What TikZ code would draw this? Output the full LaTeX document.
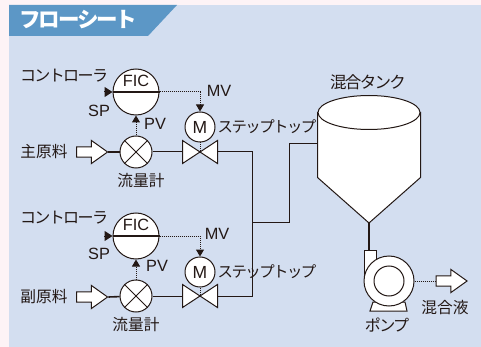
\documentclass[tikz,border=0pt]{standalone}
\usepackage{fontspec}
\setmainfont{Liberation Sans}
\newfontfamily\cjk{Noto Sans CJK JP}
\newfontfamily\kanafont[LetterSpace=-10]{Noto Sans CJK JP}
\usepackage{tikz}
\usetikzlibrary{arrows.meta,shapes.arrows}
\definecolor{ink}{HTML}{231815}
\definecolor{panel}{HTML}{D3DEF0}
\definecolor{page}{HTML}{FDF3F6}
\definecolor{tab}{HTML}{5C97C6}
\begin{document}
\begin{tikzpicture}[x=1pt, y=-1pt, line width=1pt, draw=ink, text=ink,
    main/.style = {draw, circle, fill=white, inner sep=0pt},
    fic/.style = {main, minimum size=46pt},
    meter/.style = {main, minimum size=32pt},
    motor/.style = {main, minimum size=30pt, font=\fontsize{17.5}{17.5}\selectfont},
    valve/.style = {minimum width=34pt, minimum height=22pt, inner sep=0pt},
    inout/.style = {draw, fill=white, single arrow, minimum height=31pt, minimum width=23pt,
        inner sep=4.6pt, single arrow head extend=6.5pt, single arrow tip angle=71},
    txt/.style = {inner sep=0pt, font=\fontsize{16.3}{16.3}\selectfont},
    jp/.style = {inner sep=0pt, font=\cjk\fontsize{15.7}{15.7}\selectfont},
    kana/.style = {inner sep=0pt, font=\kanafont\fontsize{16}{16}\selectfont},
    dots/.style = {dash pattern=on 1pt off 1pt},
    signal/.style = {dots, -{Triangle[length=7pt,width=8pt]}}]
    % background
    \fill[page] (0,0) rectangle (481,347);
    \fill[panel] (9,5) rectangle (481,347);
    \fill[tab] (9,5) -- (177,5) -- (148,36) -- (9,36) -- cycle;
    \node[inner sep=0pt, text=white, font=\kanafont\bfseries\fontsize{21.5}{21.5}\selectfont] (title) at (78.5,20) {フローシート};

    % upper line
    \node[meter] (m1) at (136,152) {};
    \node[fic] (c1) at (136,92) {};
    \node[motor] (a1) at (200,127) {M};
    \node[valve] (v1) at (200,152) {};
    \node[inout] (in1) at (88.5,152) {};
    \coordinate (s1) at (104,92);
    \coordinate (b1) at (200,92);
    \draw[line width=1.5pt] (c1.west) -- (c1.east);
    \draw (m1.45) -- (m1.225) (m1.135) -- (m1.315);
    \filldraw[fill=white] (v1.north west) -- (v1.south east) -- (v1.north east) -- (v1.south west) -- cycle;
    \node[txt] (f1) at (136,81) {FIC};
    \draw[line width=1.6pt] (in1.tip) -- (m1);
    \draw (m1) -- (v1.west);
    \draw[-{Triangle[length=8pt,width=10pt]}] (s1) -- (c1.west);
    \draw[signal] (m1) -- (c1);
    \draw[dots] (c1.east) -- (b1);
    \draw[signal] (b1) -- (a1);
    \draw[dots] (a1) -- (v1.center);
    \node[kana] (k1) at (64,76) {コントローラ};
    \node[txt] (sp1) at (99,111) {SP};
    \node[txt] (pv1) at (155,124) {PV};
    \node[txt] (mv1) at (219,91) {MV};
    \node[kana, font=\kanafont\fontsize{15.4}{15.4}\selectfont] (st1) at (267,127) {ステップトップ};
    \node[jp] (ma1) at (44,152) {主原料};
    \node[jp] (fm1) at (141,181) {流量計};

    % lower line
    \node[meter] (m2) at (136,296) {};
    \node[fic] (c2) at (136,236) {};
    \node[motor] (a2) at (200,272) {M};
    \node[valve] (v2) at (200,296) {};
    \node[inout] (in2) at (88.5,297) {};
    \coordinate (s2) at (104,236);
    \coordinate (b2) at (200,236);
    \draw[line width=1.5pt] (c2.west) -- (c2.east);
    \draw (m2.45) -- (m2.225) (m2.135) -- (m2.315);
    \filldraw[fill=white] (v2.north west) -- (v2.south east) -- (v2.north east) -- (v2.south west) -- cycle;
    \node[txt] (f2) at (136,225) {FIC};
    \draw[line width=1.6pt] (in2.tip) -- (m2);
    \draw (m2) -- (v2.west);
    \draw[-{Triangle[length=8pt,width=10pt]}] (s2) -- (c2.west);
    \draw[signal] (m2) -- (c2);
    \draw[dots] (c2.east) -- (b2);
    \draw[signal] (b2) -- (a2);
    \draw[dots] (a2) -- (v2.center);
    \node[kana] (k2) at (64,218) {コントローラ};
    \node[txt] (sp2) at (99,254) {SP};
    \node[txt] (pv2) at (157,266) {PV};
    \node[txt] (mv2) at (217,234) {MV};
    \node[kana, font=\kanafont\fontsize{15.4}{15.4}\selectfont] (st2) at (267,272) {ステップトップ};
    \node[jp] (ma2) at (44,297) {副原料};
    \node[jp] (fm2) at (136,325) {流量計};

    % tank
    \node[valve, minimum width=102pt, minimum height=64pt] (tank) at (369,145) {};
    \coordinate (apex) at (369,223);
    \coordinate (j1) at (252,222);
    \coordinate (j2) at (289,144);
    \filldraw[fill=white] (tank.north west) -- (tank.south west) -- (apex) -- (tank.south east) -- (tank.north east) -- cycle;
    \filldraw[fill=white] (tank.north) ellipse [x radius=51pt, y radius=17pt];
    \draw (v1.east) -| (j1);
    \draw (v2.east) -| (j1);
    \draw (j1) -| (j2) -- (tank.west |- j2);
    \node[jp, font=\kanafont\fontsize{16.5}{16.5}\selectfont] (tk) at (368,82) {混合タンク};

    % pump
    \node[valve, draw, fill=white, minimum width=12pt, minimum height=31pt] (neck) at (370,265.5) {};
    \filldraw[fill=white] (373,302) -- (405,302) -- (407,311) -- (370,311) -- cycle;
    \node[main, minimum size=50pt] (p) at (389,281) {};
    \node[main, minimum size=30pt] (q) at (p) {};
    \draw[line width=1.6pt] (apex) -- (apex |- neck.north);
    \node[inout] (out) at (448,281) {};
    \draw[dots] (p.east) -- (out.west);
    \node[jp] (lq) at (445,308) {混合液};
    \node[kana] (pu) at (387,325) {ポンプ};
\end{tikzpicture}
\end{document}
